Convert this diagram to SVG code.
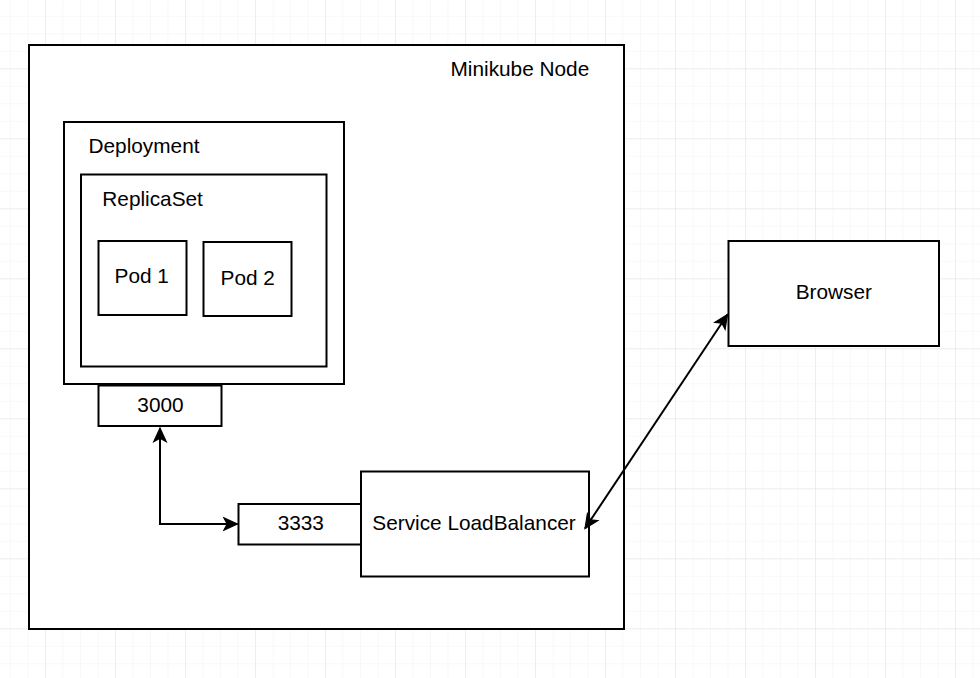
<svg xmlns="http://www.w3.org/2000/svg" width="980" height="678" viewBox="0 0 980 678">
<style>
.box{fill:#ffffff;stroke:#000000;stroke-width:2}
.lbl{font-family:"Liberation Sans",Arial,Helvetica,sans-serif;font-size:20.8px;fill:#000000}
.mid{text-anchor:middle}
.conn{fill:none;stroke:#000000;stroke-width:2}
</style>
<defs>
<pattern id="minor" x="10" y="15.8" width="17.5" height="17.5" patternUnits="userSpaceOnUse">
<path d="M0,0 H17.5 M0,0 V17.5" fill="none" stroke="#f1f1f1" stroke-width="1"/>
</pattern>
<pattern id="major" x="45" y="-1.7" width="70" height="70" patternUnits="userSpaceOnUse">
<path d="M0,0 H70 M0,0 V70" fill="none" stroke="#e3e3e3" stroke-width="1"/>
</pattern>
<marker id="arr" markerUnits="userSpaceOnUse" markerWidth="16" markerHeight="16" viewBox="-13 -7 14 14" refX="0" refY="0" orient="auto-start-reverse">
<path d="M0,0 L-12,-5.5 L-9,0 L-12,5.5 Z" fill="#000000" stroke="#000000" stroke-width="1" stroke-linejoin="miter"/>
</marker>
</defs>
<rect width="980" height="678" fill="#ffffff"/>
<rect width="980" height="678" fill="url(#minor)"/>
<rect width="980" height="678" fill="url(#major)"/>

<g id="minikube-node">
<rect class="box" x="29" y="45" width="595" height="584"/>
<text class="lbl" x="450.5" y="75.5">Minikube Node</text>
</g>
<g id="deployment">
<rect class="box" x="64" y="122" width="280" height="262"/>
<text class="lbl" x="88.5" y="152.7">Deployment</text>
</g>
<g id="replicaset">
<rect class="box" x="81" y="174.5" width="245.5" height="192"/>
<text class="lbl" x="102.3" y="205.7">ReplicaSet</text>
</g>
<g id="pod1">
<rect class="box" x="98.5" y="241" width="88" height="74"/>
<text class="lbl mid" x="141.7" y="282.7">Pod 1</text>
</g>
<g id="pod2">
<rect class="box" x="203.5" y="242" width="88" height="74"/>
<text class="lbl mid" x="247.7" y="285">Pod 2</text>
</g>
<g id="port3000">
<rect class="box" x="98.5" y="385.5" width="123" height="40.5"/>
<text class="lbl mid" x="160.5" y="411.7">3000</text>
</g>
<g id="port3333">
<rect class="box" x="238.5" y="504" width="122.5" height="40.5"/>
<text class="lbl mid" x="300.8" y="529.5">3333</text>
</g>
<g id="service-loadbalancer">
<rect class="box" x="361" y="471.5" width="228" height="105"/>
<text class="lbl" x="372.3" y="529.5">Service LoadBalancer</text>
</g>
<g id="browser">
<rect class="box" x="728.5" y="241" width="210.5" height="105"/>
<text class="lbl mid" x="833.8" y="299">Browser</text>
</g>

<g id="connectors">
<path class="conn" d="M160,428 V524 H237.5" marker-start="url(#arr)" marker-end="url(#arr)"/>
<path class="conn" d="M585,528.5 L727.5,314.5" marker-start="url(#arr)" marker-end="url(#arr)"/>
</g>
</svg>
